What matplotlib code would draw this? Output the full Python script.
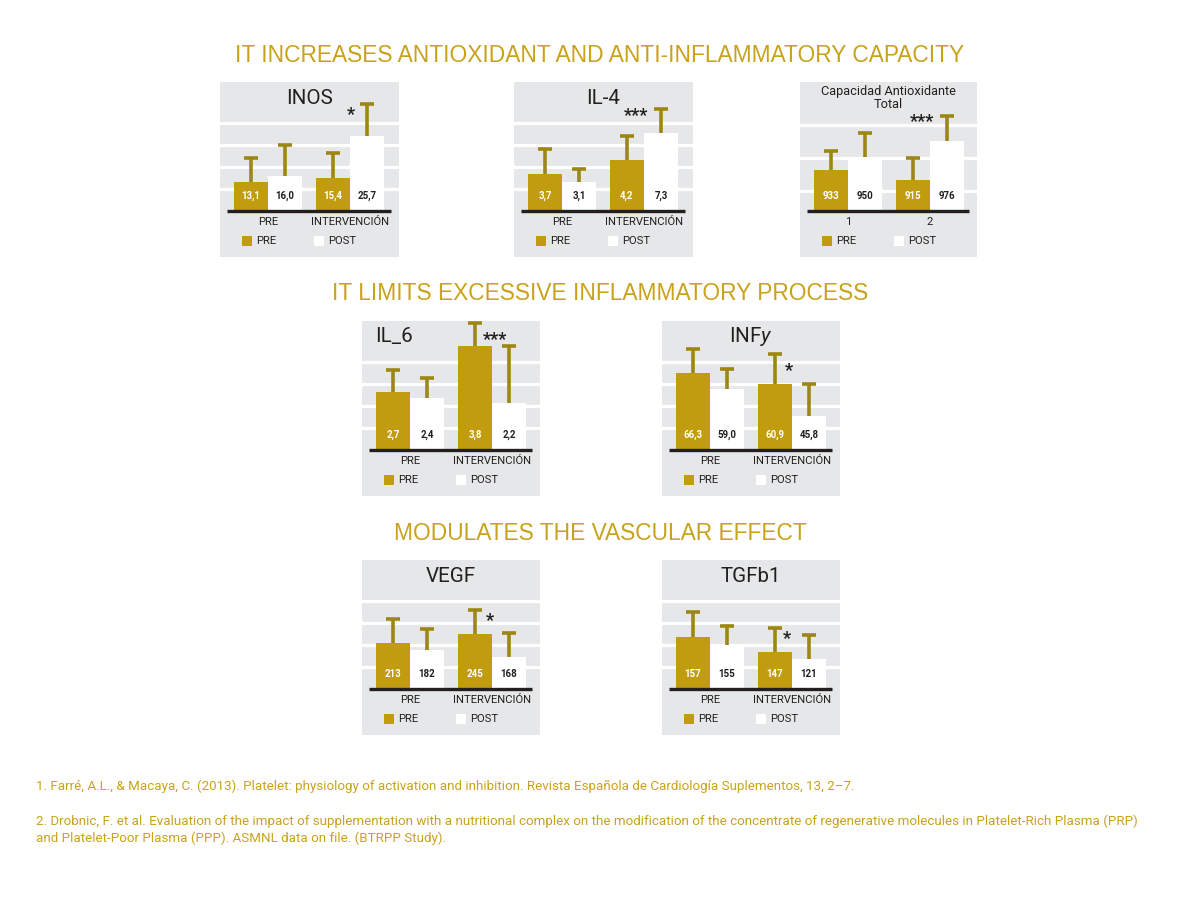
import matplotlib
matplotlib.use("Agg")
import matplotlib.pyplot as plt
from matplotlib.patches import Rectangle
import numpy as np

plt.rcParams['font.family'] = ['Roboto', 'DejaVu Sans']
plt.rcParams['mathtext.fontset'] = 'custom'
plt.rcParams['mathtext.rm'] = 'Roboto'
plt.rcParams['mathtext.it'] = 'Roboto:italic'

GOLD_BAR = '#C09C0E'
GOLD_TXT = '#C9A21C'
ERR = '#9C8714'
BG = '#E6E7E8'
DARK = '#231F20'

# data: order PRE/PRE, PRE/POST, INTERV/PRE, INTERV/POST
# bar heights and error lengths in chart grid units
groups = ['PRE', 'INTERVENCIÓN']
groups_cat = ['1', '2']
series = ['PRE', 'POST']

inos_lbl = ['13,1', '16,0', '15,4', '25,7']
inos_bar = [1.32, 1.60, 1.51, 3.41]
inos_err = [1.08, 1.40, 1.11, 1.44]

il4_lbl = ['3,7', '3,1', '4,2', '7,3']
il4_bar = [1.70, 1.33, 2.33, 3.55]
il4_err = [1.10, 0.59, 1.08, 1.10]

cat_lbl = ['933', '950', '915', '976']
cat_bar = [1.85, 2.45, 1.40, 3.18]
cat_err = [0.86, 1.10, 1.02, 1.14]

il6_lbl = ['2,7', '2,4', '3,8', '2,2']
il6_bar = [2.65, 2.35, 4.73, 2.15]
il6_err = [0.97, 0.94, 1.06, 2.58]

infy_lbl = ['66,3', '59,0', '60,9', '45,8']
infy_bar = [3.52, 2.76, 3.02, 1.53]
infy_err = [1.06, 0.91, 1.33, 1.45]

vegf_lbl = ['213', '182', '245', '168']
vegf_bar = [2.08, 1.77, 2.48, 1.47]
vegf_err = [1.09, 0.96, 1.11, 1.09]

tgf_lbl = ['157', '155', '147', '121']
tgf_bar = [2.38, 2.00, 1.67, 1.36]
tgf_err = [1.10, 0.88, 1.12, 1.09]

sections = ['IT INCREASES ANTIOXIDANT AND ANTI-INFLAMMATORY CAPACITY',
            'IT LIMITS EXCESSIVE INFLAMMATORY PROCESS',
            'MODULATES THE VASCULAR EFFECT']

refs = ['1. Farré, A.L., & Macaya, C. (2013). Platelet: physiology of activation and inhibition. '
        'Revista Española de Cardiología Suplementos, 13, 2–7.',
        '2. Drobnic, F. et al. Evaluation of the impact of supplementation with a nutritional complex on the '
        'modification of the concentrate of regenerative molecules in Platelet-Rich Plasma (PRP)',
        'and Platelet-Poor Plasma (PPP). ASMNL data on file. (BTRPP Study).']

W, H = 1200, 905
fig = plt.figure(figsize=(12, 9.05), dpi=100)
fig.patch.set_facecolor('white')

UX, UY, X0, BASE, PH = 82.0, 22.0, 48.0, 129.0, 175.0


def panel(left, top, width, title, lbl, bar, err, stars, star_x, star_y,
          cats=groups, grid=(1, 2, 3, 4), title_mode='center'):
    ax = fig.add_axes([left / W, 1 - (top + PH) / H, width / W, PH / H])
    ax.set_facecolor(BG)
    ax.set_xlim(-X0 / UX, (width - X0) / UX)
    ax.set_ylim(-(PH - BASE) / UY, BASE / UY)
    ax.axis('off')
    ax.add_patch(Rectangle((0, 0), 1, 1, transform=ax.transAxes, facecolor=BG,
                           edgecolor='none', zorder=0))
    for g in grid:
        ax.axhline(g, color='white', lw=2.3, zorder=1)

    bw = 34 / UX
    xg = np.arange(len(cats))
    pre_h, post_h = np.array(bar[0::2]), np.array(bar[1::2])
    pre_e, post_e = np.array(err[0::2]), np.array(err[1::2])
    xp, xq = xg - bw / 2, xg + bw / 2
    ax.bar(xp, pre_h, width=bw, color=GOLD_BAR, zorder=2)
    ax.bar(xq, post_h, width=bw, color='white', zorder=2)
    for xs, hs, es in ((xp, pre_h, pre_e), (xq, post_h, post_e)):
        ax.errorbar(xs, hs, yerr=[np.zeros(len(es)), es], fmt='none', ecolor=ERR,
                    elinewidth=2.6, capsize=0, zorder=3)
        ax.plot(xs, hs + es, ls='none', marker='_', ms=9.6, mew=2.6, color=ERR,
                zorder=3)
    for i, x in enumerate(xp):
        ax.text(x, 15 / UY, lbl[2 * i], ha='center', va='center', fontsize=7.0,
                fontweight='bold', color='white', zorder=4)
    for i, x in enumerate(xq):
        ax.text(x, 15 / UY, lbl[2 * i + 1], ha='center', va='center', fontsize=7.0,
                fontweight='bold', color=DARK, zorder=4)
    # baseline
    ax.plot([(7 - X0) / UX, (width - 8 - X0) / UX], [0, 0], color=DARK, lw=2.4,
            solid_capstyle='butt', zorder=5)
    for x, c in zip(xg, cats):
        ax.text(x, -11 / UY, c, ha='center', va='center', fontsize=8.1, color=DARK)
    # legend
    ly = -30 / UY
    for (sx, col, name) in ((22, GOLD_BAR, series[0]), (94, 'white', series[1])):
        ax.add_patch(Rectangle(((sx - X0) / UX, ly - 5 / UY), 10 / UX, 10 / UY,
                               facecolor=col, edgecolor='none', zorder=2))
        ax.text((sx + 14 - X0) / UX, ly, name, ha='left', va='center',
                fontsize=8.1, color=DARK)
    # title
    if title_mode == 'center':
        ax.text(0.5, 113 / UY, title, transform=ax.get_yaxis_transform(),
                ha='center', va='center', fontsize=14.8, color=DARK)
    elif title_mode == 'left':
        ax.text((13 - X0) / UX, 114 / UY, title, ha='left', va='center',
                fontsize=14.8, color=DARK)
    else:
        ax.text(0.5, 113 / UY, title, transform=ax.get_yaxis_transform(),
                ha='center', va='center', fontsize=9.2, color=DARK,
                linespacing=1.05)
    ax.text(star_x, star_y, stars, ha='center', va='center', fontsize=13,
            fontweight='bold', color=DARK, zorder=4)
    return ax


panel(220, 82, 179, 'INOS', inos_lbl, inos_bar, inos_err, '*', 1.01, 4.36)
panel(514, 82, 179, 'IL-4', il4_lbl, il4_bar, il4_err, '***', 0.90, 4.3)
panel(800, 82, 177, 'Capacidad Antioxidante\nTotal', cat_lbl, cat_bar, cat_err,
      '***', 0.90, 4.06, cats=groups_cat, grid=(0.91, 2.42, 3.91), title_mode='small')
panel(362, 321, 178, 'IL_6', il6_lbl, il6_bar, il6_err, '***', 1.04, 5.0,
      title_mode='left')
panel(662, 321, 178, r'INF$\mathit{y}$', infy_lbl, infy_bar, infy_err, '*', 0.96, 3.58)
panel(362, 560, 178, 'VEGF', vegf_lbl, vegf_bar, vegf_err, '*', 0.97, 3.11)
panel(662, 560, 178, 'TGFb1', tgf_lbl, tgf_bar, tgf_err, '*', 0.94, 2.28)

for s, y in zip(sections, (55, 294, 533)):
    fig.text(600 / W, 1 - y / H, s, ha='center', va='center', fontsize=16.4,
             family='Liberation Sans', color=GOLD_TXT)

for r, y in zip(refs, (786, 821, 838)):
    fig.text(36 / W, 1 - y / H, r, ha='left', va='center', fontsize=9.6,
             color=GOLD_TXT)

fig.savefig('out.png', dpi=100, facecolor='white')
